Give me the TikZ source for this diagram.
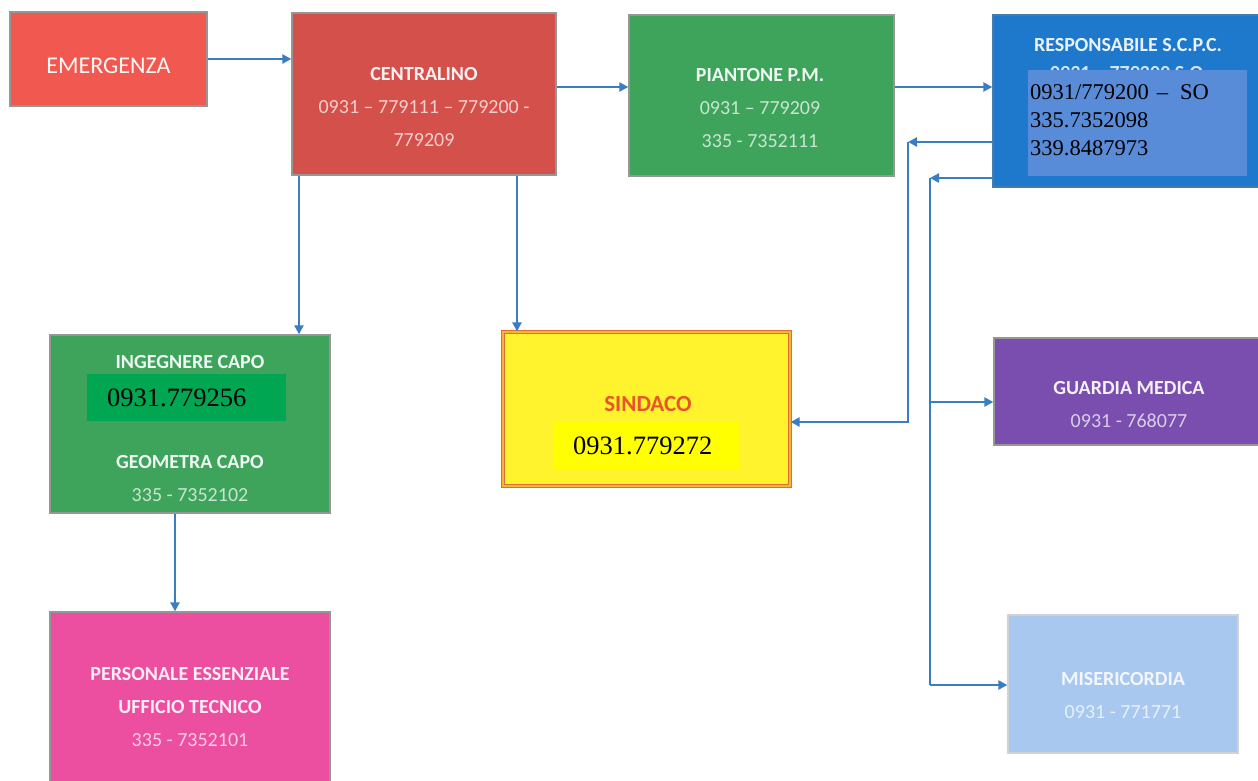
\documentclass[tikz,border=0pt]{standalone}
\usepackage{fontspec}
\setmainfont{Carlito}
\newfontfamily\tnr{Liberation Serif}
\usetikzlibrary{arrows.meta}

\definecolor{cEmerg}{RGB}{241,88,80}
\definecolor{cCent}{RGB}{212,80,74}
\definecolor{cGreen}{RGB}{62,164,92}
\definecolor{cResp}{RGB}{30,120,203}
\definecolor{cRespPatch}{RGB}{88,140,216}
\definecolor{cIngPatch}{RGB}{0,166,81}
\definecolor{cSindFill}{RGB}{255,243,45}
\definecolor{cSindPatch}{RGB}{255,255,0}
\definecolor{cSindLine}{RGB}{226,108,56}
\definecolor{cSindText}{RGB}{232,84,44}
\definecolor{cGuard}{RGB}{122,78,174}
\definecolor{cMiser}{RGB}{168,200,240}
\definecolor{cPers}{RGB}{236,78,160}
\definecolor{cArrow}{RGB}{58,125,194}
\definecolor{cEdge}{RGB}{150,150,150}

% lighter tint for the phone numbers printed inside a box
\newcommand\numc[2]{\textcolor{white!72!#1}{#2}}

\tikzset{
  box/.style={draw=cEdge, line width=1.3pt, rectangle, inner sep=0pt},
  patch/.style={rectangle, inner sep=0pt, draw=none},
  boxtext/.style={inner sep=0pt, align=center, font=\fontsize{20}{33}\selectfont},
  serifnum/.style={inner sep=0pt, anchor=west, align=left, text=black},
  conn/.style={draw=cArrow, line width=2.3pt},
  arr/.style={conn, -{Triangle[length=9pt,width=9pt]}},
}

\begin{document}
\begin{tikzpicture}[x=1pt,y=-1pt]
\useasboundingbox[fill=white] (0,0) rectangle (1258,780);

% ---- boxes ----
\node[box, fill=cEmerg, minimum width=197pt, minimum height=94pt] (emerg) at (108.5,59) {};
\node[box, fill=cCent,  minimum width=264pt, minimum height=162pt] (cent) at (424,94) {};
\node[box, fill=cGreen, minimum width=265pt, minimum height=161pt] (piant) at (761.5,95.5) {};
\node[box, fill=cResp,  draw=cResp!60!gray, minimum width=269pt, minimum height=172pt] (resp) at (1127.5,101) {};
\node[box, fill=cGreen, minimum width=280pt, minimum height=178pt] (ing) at (190,424) {};
\node[box, fill=cSindFill, draw=cSindLine, double=cSindLine!45!cSindFill, double distance=1.6pt, line width=1.2pt,
      minimum width=287pt, minimum height=154pt] (sind) at (646.5,409) {};
\node[box, fill=cGuard, minimum width=268pt, minimum height=107pt] (guard) at (1128,391.5) {};
\node[box, fill=cMiser, draw=gray!35, minimum width=230pt, minimum height=138pt] (miser) at (1123,684) {};
\node[box, fill=cPers,  minimum width=280pt, minimum height=174pt] (pers) at (190,699) {};

% ---- box texts ----
\node[boxtext, text=white!95!cEmerg, font=\fontsize{24}{29}\selectfont] (emerg-t) at (108.5,66) {EMERGENZA};
\node[boxtext, text=white!92!cCent] (cent-t) at (424,107.5)
  {\textbf{CENTRALINO}\\ \numc{cCent}{0931 – 779111 – 779200 -}\\ \numc{cCent}{779209}};
\node[boxtext, text=white!92!cGreen] (piant-t) at (760,108.5)
  {\textbf{PIANTONE P.M.}\\ \numc{cGreen}{0931 – 779209}\\ \numc{cGreen}{335 - 7352111}};

\node[boxtext, text=white!90!cResp] (resp-t) at (1128,45) {\textbf{RESPONSABILE S.C.P.C.}};
\node[boxtext, text=white!80!cResp] (resp-old) at (1129,73) {\textbf{0931 – 779200 S.O.}};
\node[patch, fill=cRespPatch, minimum width=219pt, minimum height=106pt] (resp-p) at (1137.5,123) {};
\node[serifnum, font=\tnr\fontsize{22.5}{28}\selectfont] (resp-n) at (1030,120)
  {0931/779200\hspace{8pt}–\hspace{12pt}SO\\335.7352098\\339.8487973};

\node[boxtext, text=white!92!cGreen] (ing-t) at (190,362) {\textbf{INGEGNERE CAPO}};
\node[patch, fill=cIngPatch, minimum width=199pt, minimum height=47pt] (ing-p) at (186.5,397.5) {};
\node[serifnum, font=\tnr\fontsize{26.5}{30}\selectfont] (ing-n) at (107,398) {0931.779256};
\node[boxtext, text=white!92!cGreen] (geom-t) at (190,478.5)
  {\textbf{GEOMETRA CAPO}\\ \numc{cGreen}{335 - 7352102}};

\node[boxtext, text=cSindText, font=\fontsize{23}{28}\selectfont\bfseries] (sind-t) at (648,404) {SINDACO};
\node[patch, fill=cSindPatch, minimum width=186pt, minimum height=48pt] (sind-p) at (646,445) {};
\node[serifnum, font=\tnr\fontsize{26.5}{30}\selectfont] (sind-n) at (573,446) {0931.779272};

\node[boxtext, text=white!92!cGuard] (guard-t) at (1129,404.5)
  {\textbf{GUARDIA MEDICA}\\ \numc{cGuard}{0931 - 768077}};
\node[boxtext, text=white!85!cMiser] (miser-t) at (1123,695)
  {\textbf{MISERICORDIA}\\ \numc{cMiser}{0931 - 771771}};
\node[boxtext, text=white!90!cPers] (pers-t) at (190,706.5)
  {\textbf{PERSONALE ESSENZIALE}\\ \textbf{UFFICIO TECNICO}\\ \numc{cPers}{335 - 7352101}};

% ---- routing points ----
\coordinate (rowA) at (0,87);
\coordinate (colIng) at (299,0);
\coordinate (colSin) at (517,0);
\coordinate (colPers) at (175,0);
\coordinate (j1) at (908,142);
\coordinate (j1b) at (908,422);
\coordinate (j2) at (930,178);
\coordinate (j2g) at (930,402);
\coordinate (j2m) at (930,685);

% ---- connectors ----
\draw[arr] (emerg.east) -- (emerg.east -| cent.west);
\draw[arr] (cent.east |- rowA) -- (piant.west |- rowA);
\draw[arr] (piant.east |- rowA) -- (resp.west |- rowA);
\draw[arr] (cent.south -| colIng) -- (ing.north -| colIng);
\draw[arr] (cent.south -| colSin) -- (sind.north -| colSin);
\draw[arr] (resp.west |- j1) -- (j1);
\draw[arr] (j1) -- (j1b) -- (sind.east |- j1b);
\draw[arr] (resp.west |- j2) -- (j2);
\draw[conn] (j2) -- (j2m);
\draw[arr] (j2g) -- (guard.west |- j2g);
\draw[arr] (j2m) -- (miser.west |- j2m);
\draw[arr] (ing.south -| colPers) -- (pers.north -| colPers);
\end{tikzpicture}
\end{document}
